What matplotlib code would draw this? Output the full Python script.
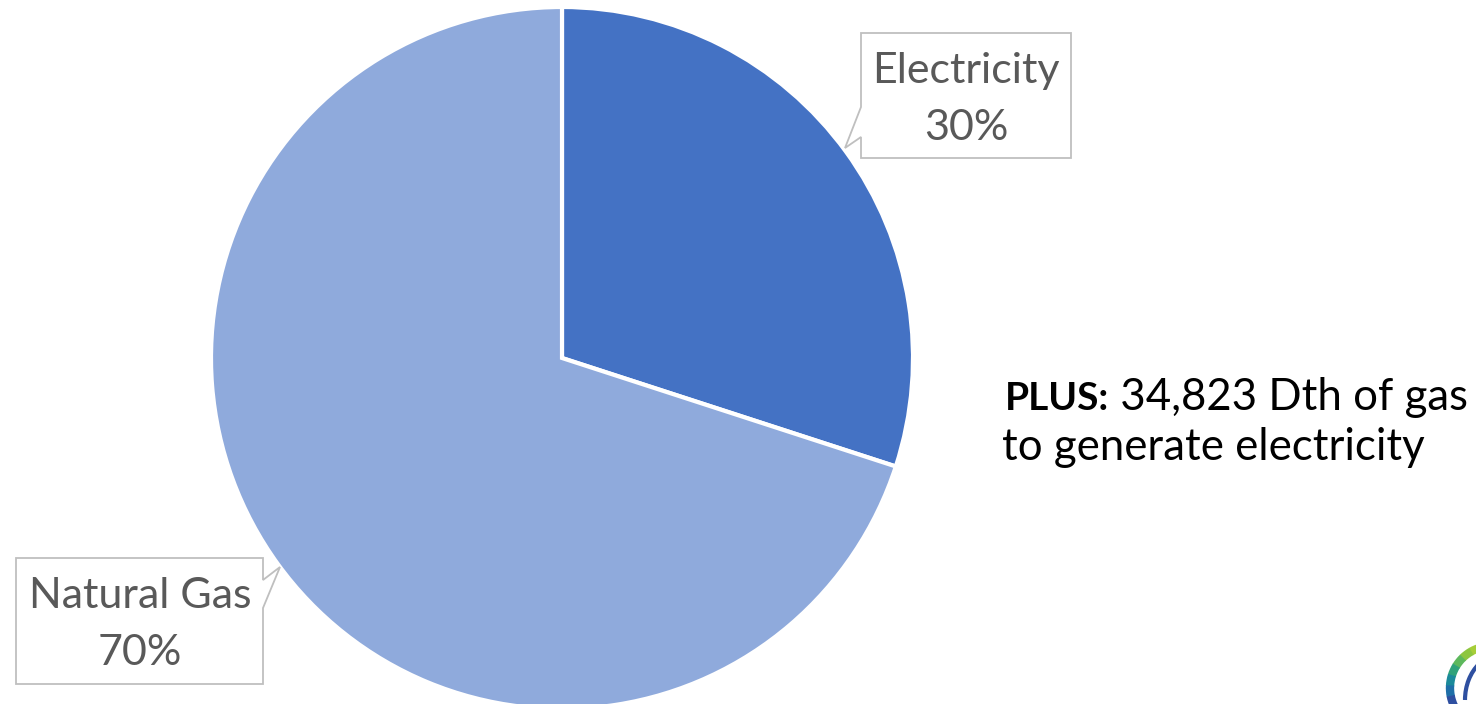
import matplotlib
matplotlib.use("Agg")
import matplotlib.pyplot as plt
from matplotlib.patches import Polygon, Arc

# ---- data ----
categories = ["Electricity", "Natural Gas"]
shares = [30, 70]
colors = ["#4472C4", "#8FAADC"]
note_bold = "PLUS:"
note_line1 = " 34,823 Dth of gas"
note_line2 = "to generate electricity"

W, H = 1476, 704
fig = plt.figure(figsize=(W / 100, H / 100), dpi=100)
ax = fig.add_axes([0, 0, 1, 1])

def py(y):
    return H - y

ax.pie(shares, colors=colors, startangle=90, counterclock=False,
       center=(562, py(358)), radius=351,
       wedgeprops=dict(edgecolor="white", linewidth=3))
ax.set_xlim(0, W)
ax.set_ylim(0, H)
ax.set_aspect("equal")
ax.axis("off")

font = "Lato"
box_color = "#BFBFBF"
txt_color = "#595959"
lab_size = 31

# Electricity callout
elec_pts = [(861, 33), (1071, 33), (1071, 158), (861, 158), (861, 137), (845, 148), (861, 107)]
ax.add_patch(Polygon([(x, py(y)) for x, y in elec_pts], closed=True, facecolor="white",
                     edgecolor=box_color, linewidth=1.3, zorder=5))
ax.text(966, py(83), categories[0], ha="center", va="baseline", fontsize=lab_size,
        color=txt_color, family=font, zorder=6)
ax.text(966, py(140), f"{shares[0]}%", ha="center", va="baseline", fontsize=lab_size,
        color=txt_color, family=font, zorder=6)

# Natural gas callout
gas_pts = [(16, 558), (263, 558), (263, 580), (280, 567), (263, 608), (263, 684), (16, 684)]
ax.add_patch(Polygon([(x, py(y)) for x, y in gas_pts], closed=True, facecolor="white",
                     edgecolor=box_color, linewidth=1.3, zorder=5))
ax.text(140, py(608), categories[1], ha="center", va="baseline", fontsize=lab_size,
        color=txt_color, family=font, zorder=6)
ax.text(140, py(665), f"{shares[1]}%", ha="center", va="baseline", fontsize=lab_size,
        color=txt_color, family=font, zorder=6)

# Note text
t1 = ax.text(1005, py(410), note_bold, ha="left", va="baseline", fontsize=28,
             fontweight="bold", color="black", family=font)
fig.canvas.draw()
bb = t1.get_window_extent()
ax.text(bb.x1, py(410), note_line1, ha="left", va="baseline", fontsize=31.5,
        color="black", family=font)
ax.text(1002, py(460), note_line2, ha="left", va="baseline", fontsize=31.5,
        color="black", family=font)

# partial logo in the corner (decorative)
logo_cols = ["#A6CE39", "#8DC63F", "#5DB85C", "#2FA27A", "#1B8A9A", "#1F6FA8", "#2E4FA0"]
n = len(logo_cols)
for i, c in enumerate(logo_cols):
    a0 = 105 + i * (100 / n)
    ax.add_patch(Arc((1492, py(688)), 84, 84, theta1=a0, theta2=a0 + 100 / n + 1,
                     color=c, linewidth=6, zorder=4))
ax.add_patch(Arc((1500, py(700)), 70, 90, theta1=120, theta2=180,
                 color="#2E4FA0", linewidth=3, zorder=4))

fig.savefig("out.png", dpi=100, facecolor="white")
